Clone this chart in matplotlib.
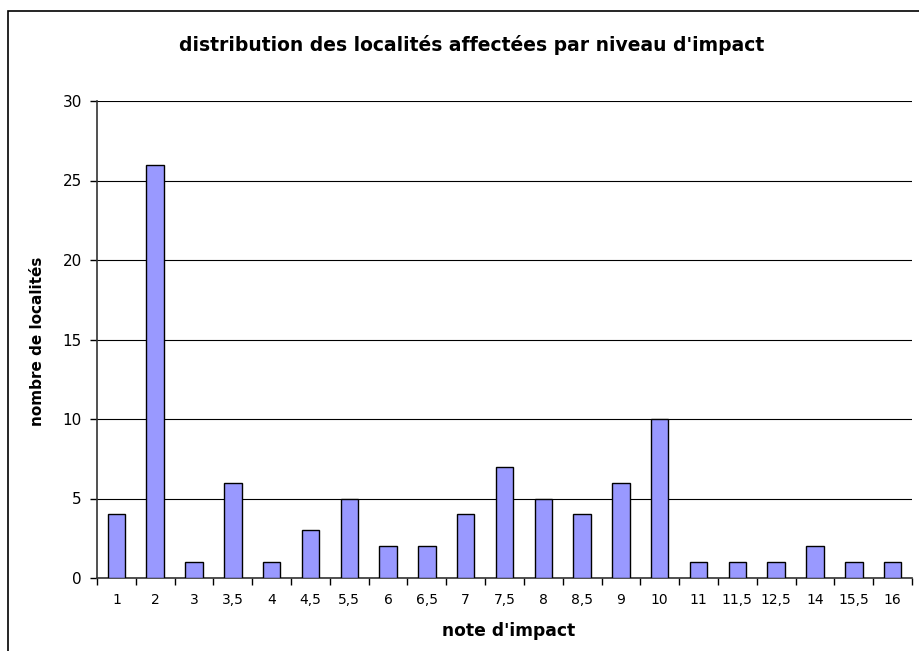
import matplotlib.pyplot as plt
from matplotlib.patches import Rectangle

plt.rcParams['font.family'] = ['DejaVu Sans']

notes = ['1', '2', '3', '3,5', '4', '4,5', '5,5', '6', '6,5', '7', '7,5',
         '8', '8,5', '9', '10', '11', '11,5', '12,5', '14', '15,5', '16']
localites = [4, 26, 1, 6, 1, 3, 5, 2, 2, 4, 7, 5, 4, 6, 10, 1, 1, 1, 2, 1, 1]

W, H = 920, 651
fig = plt.figure(figsize=(W / 100, H / 100), dpi=100)

# chart frame (runs past the right and bottom edges)
fig.patches.append(Rectangle((8 / W, -0.2), 1.2, 1.2 - 11 / H, transform=fig.transFigure,
                             fill=False, edgecolor='black', linewidth=1.2))

ax = fig.add_axes([97 / W, 1 - 578 / H, (912 - 97) / W, (578 - 101) / H])

x = list(range(len(notes)))
ax.bar(x, localites, width=0.45, color='#9999FF', edgecolor='black', linewidth=1.0, zorder=3)

ax.set_xlim(-0.5, len(notes) - 0.5)
ax.set_ylim(0, 30)
ax.set_yticks(range(0, 31, 5))
ax.yaxis.grid(True, color='black', linewidth=0.8)
ax.set_axisbelow(True)

# tick marks sit between categories, labels under each bar
ax.set_xticks([i - 0.5 for i in range(len(notes) + 1)])
ax.set_xticklabels([])
ax.set_xticks(x, minor=True)
ax.set_xticklabels(notes, minor=True, fontsize=10)
ax.tick_params(axis='x', which='minor', length=0, pad=11)
ax.tick_params(axis='x', which='major', length=5, width=1, direction='out')
ax.tick_params(axis='y', length=5, width=1, labelsize=11, pad=6)

for s in ['top', 'right']:
    ax.spines[s].set_visible(False)
ax.spines['left'].set_color('#333333')
ax.spines['bottom'].set_color('#333333')
ax.spines['left'].set_linewidth(1.2)
ax.spines['bottom'].set_linewidth(1.2)

fig.text(472 / W, 1 - 45 / H, "distribution des localités affectées par niveau d'impact",
         ha='center', va='center', fontsize=13.5, fontweight='bold')
fig.text(509 / W, 1 - 631 / H, "note d'impact", ha='center', va='center',
         fontsize=12.3, fontweight='bold')
fig.text(38 / W, 1 - 341 / H, "nombre de localités", ha='center', va='center',
         rotation=90, fontsize=11, fontweight='bold')

fig.savefig('out.png', dpi=100)
